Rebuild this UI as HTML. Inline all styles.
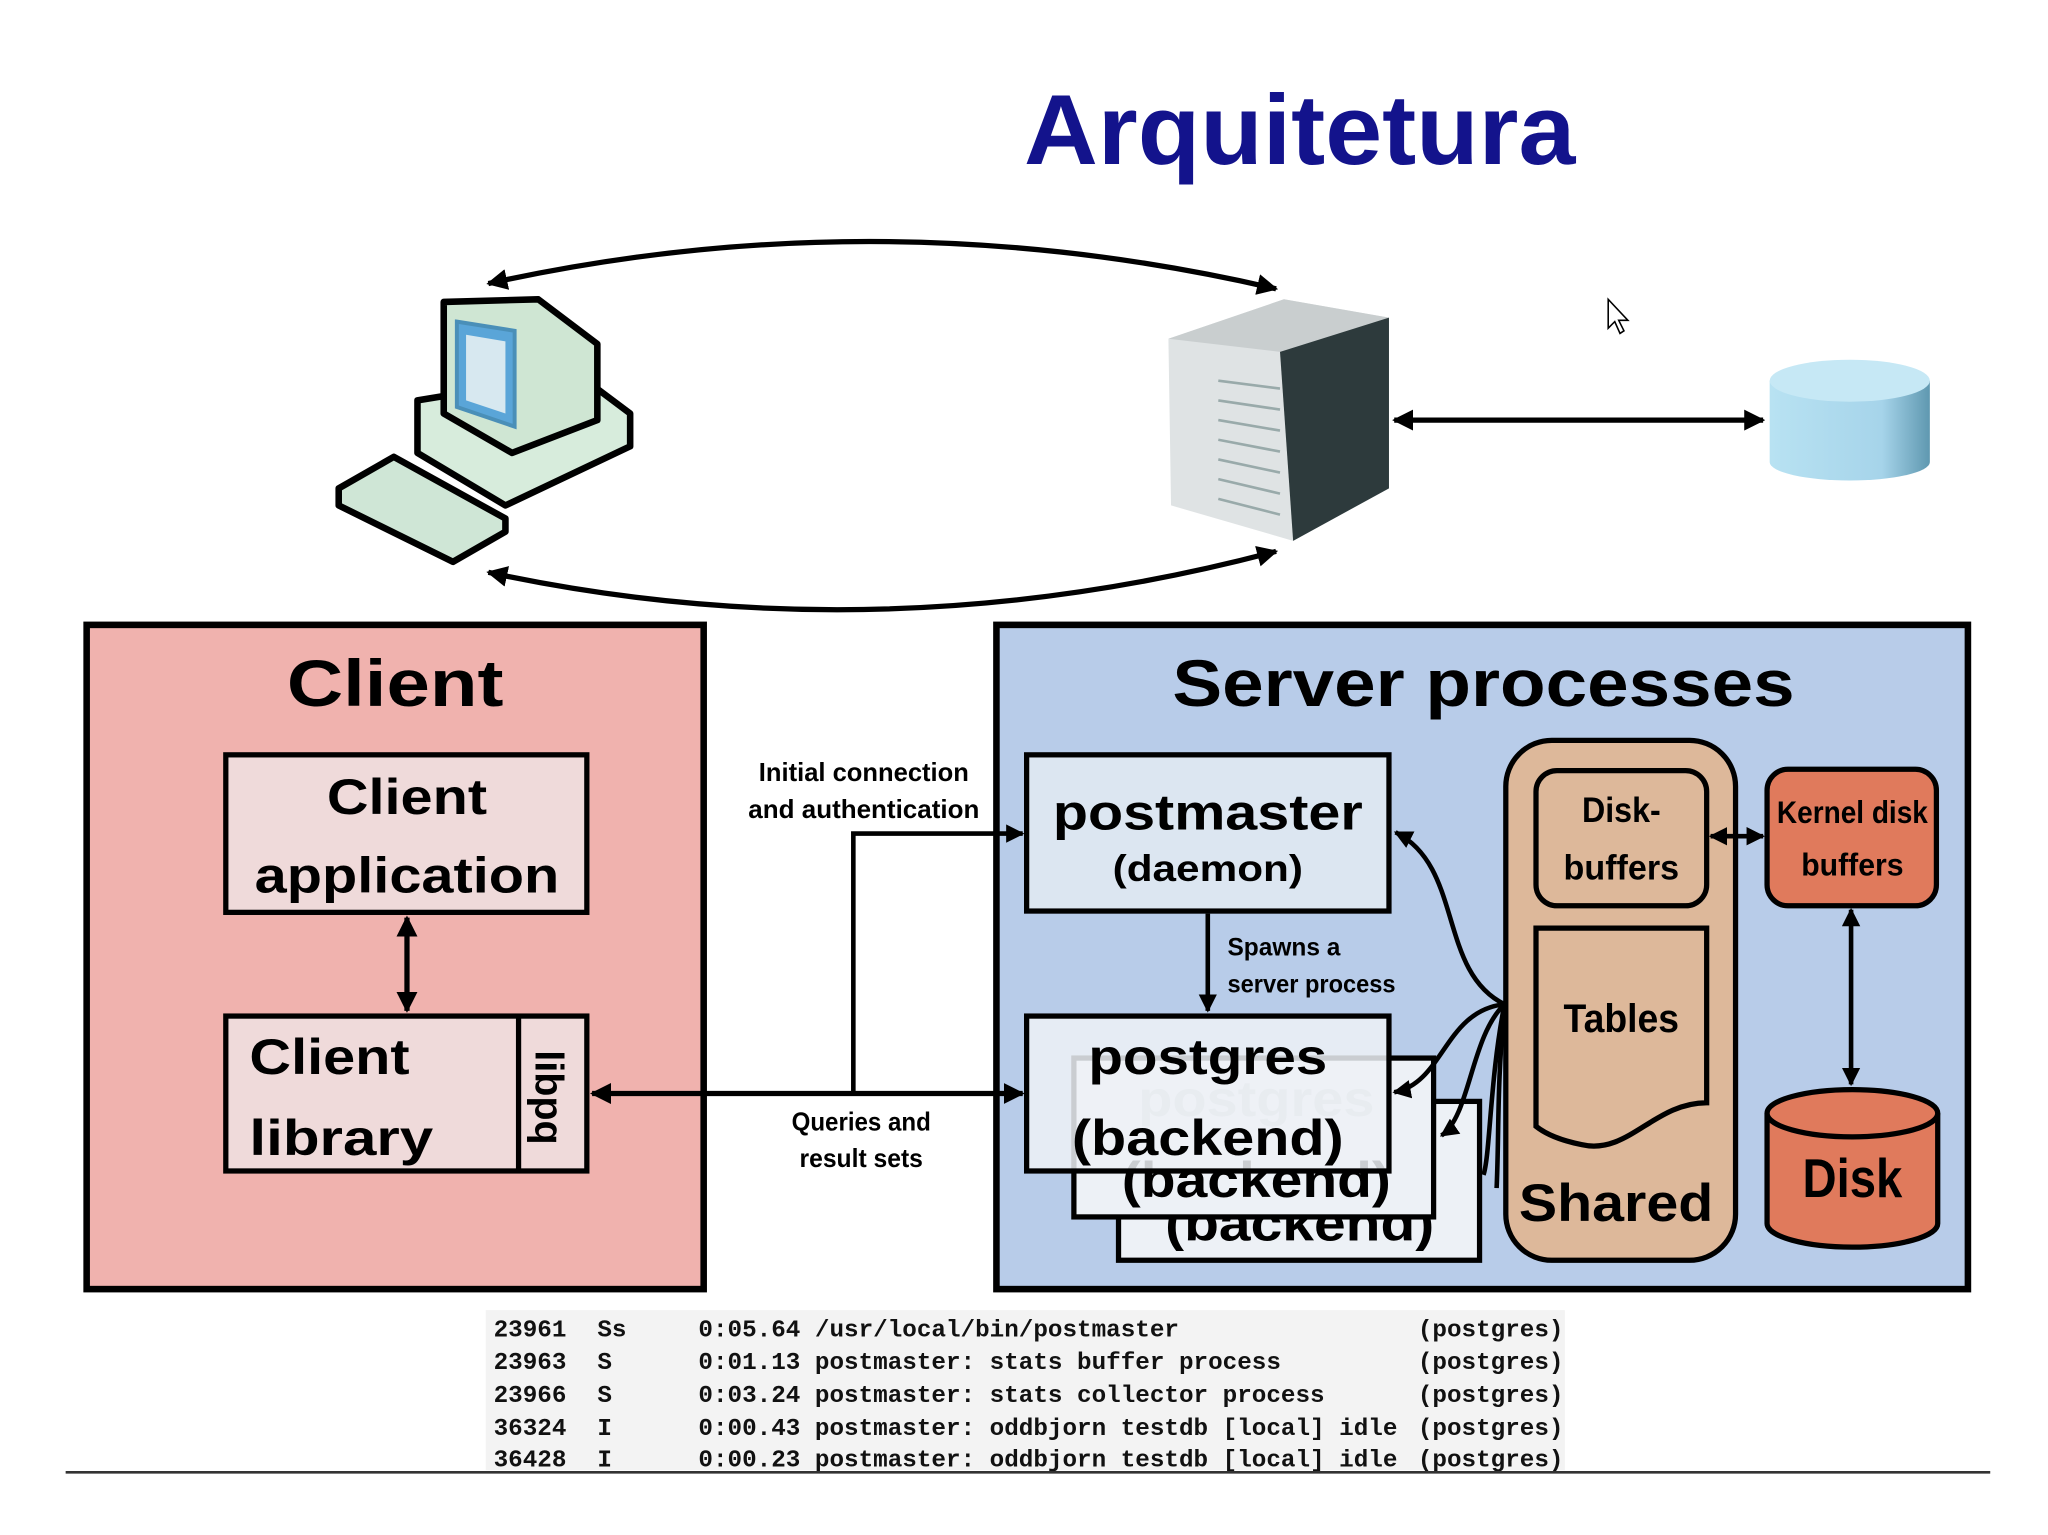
<!DOCTYPE html>
<html><head><meta charset="utf-8"><style>
html,body{margin:0;padding:0;background:#fff;width:2048px;height:1535px;overflow:hidden}
svg{display:block}
.b{font-family:"Liberation Sans",sans-serif;font-weight:bold;fill:#000}
.m{font-family:"Liberation Mono",monospace;font-weight:bold;font-size:18.5px;fill:#111}
</style></head><body>
<svg width="2048" height="1535" viewBox="0 0 1560 1169.3" preserveAspectRatio="none" xmlns="http://www.w3.org/2000/svg">
<defs>
<marker id="a" viewBox="0 0 10 10" refX="9" refY="5" markerWidth="4" markerHeight="4" orient="auto-start-reverse"><path d="M0,0L10,5L0,10z" fill="#000"/></marker>
<linearGradient id="cyl" x1="0" x2="1"><stop offset="0" stop-color="#b8e2f2"/><stop offset="0.7" stop-color="#a6d4ea"/><stop offset="1" stop-color="#5f98b0"/></linearGradient>
</defs>
<rect width="1560" height="1170" fill="#fff"/>
<text x="990" y="125" text-anchor="middle" font-family="Liberation Sans,sans-serif" font-weight="bold" font-size="76" fill="#13138c" textLength="420" lengthAdjust="spacingAndGlyphs">Arquitetura</text>

<!-- top loop -->
<path d="M372,216 Q670,150 972,220" fill="none" stroke="#000" stroke-width="4" marker-start="url(#a)" marker-end="url(#a)"/>
<path d="M372,436 Q670,500 972,420" fill="none" stroke="#000" stroke-width="4" marker-start="url(#a)" marker-end="url(#a)"/>

<!-- computer -->
<g stroke="#000" stroke-width="5" stroke-linejoin="round">
<path d="M318,305 L440,285 L480,315 L480,340 L385,385 L318,345 z" fill="#d7ecdc"/>
<path d="M338,230 L410,228 L455,262 L455,320 L390,345 L338,315 z" fill="#cfe6d3"/>
<path d="M258,372 L300,348 L385,395 L385,405 L345,428 L258,385 z" fill="#cfe6d6"/>
</g>
<path d="M348,245 L392,252 L392,325 L348,310 z" fill="#5aa5d8" stroke="#4a8fb8" stroke-width="3"/>
<path d="M355,255 L385,260 L385,315 L355,305 z" fill="#d7e8f0"/>

<!-- server -->
<path d="M890,258 L978,228 L1058,242 L1058,372 L985,412 L892,385 z" fill="#dfe3e4"/>
<path d="M890,258 L978,228 L1058,242 L975,268 z" fill="#c9cecf"/>
<path d="M975,268 L1058,242 L1058,372 L985,412 z" fill="#2d3a3c"/>
<g stroke="#9aa" stroke-width="2">
<line x1="928" y1="290" x2="975" y2="296"/><line x1="928" y1="305" x2="975" y2="312"/><line x1="928" y1="320" x2="975" y2="328"/><line x1="928" y1="335" x2="975" y2="344"/><line x1="928" y1="350" x2="975" y2="360"/><line x1="928" y1="365" x2="975" y2="376"/><line x1="928" y1="380" x2="975" y2="392"/>
</g>
<line x1="1062" y1="320" x2="1343" y2="320" stroke="#000" stroke-width="4" marker-start="url(#a)" marker-end="url(#a)"/>
<!-- db -->
<path d="M1348,290 L1348,352 A61,14 0 0 0 1470,352 L1470,290 z" fill="url(#cyl)"/>
<ellipse cx="1409" cy="290" rx="61" ry="16" fill="#c6e8f5"/>
<!-- cursor -->
<path d="M1225,228 L1225,250 L1230,245 L1234,254 L1237,252 L1233,244 L1240,244 z" fill="#fff" stroke="#000" stroke-width="1.2"/>

<!-- client box -->
<rect x="66" y="476" width="470" height="506" fill="#f0b2ae" stroke="#000" stroke-width="5"/>
<text x="301" y="538" text-anchor="middle" class="b" font-size="50" textLength="165" lengthAdjust="spacingAndGlyphs">Client</text>
<rect x="172" y="575" width="275" height="120" fill="#efdada" stroke="#000" stroke-width="4"/>
<text x="310" y="620" text-anchor="middle" class="b" font-size="38" textLength="122" lengthAdjust="spacingAndGlyphs">Client</text>
<text x="310" y="680" text-anchor="middle" class="b" font-size="38" textLength="232" lengthAdjust="spacingAndGlyphs">application</text>
<rect x="172" y="774" width="275" height="118" fill="#efdada" stroke="#000" stroke-width="4"/>
<line x1="395" y1="774" x2="395" y2="892" stroke="#000" stroke-width="4"/>
<text x="190" y="818" class="b" font-size="38" textLength="122" lengthAdjust="spacingAndGlyphs">Client</text>
<text x="190" y="880" class="b" font-size="38" textLength="140" lengthAdjust="spacingAndGlyphs">library</text>
<text transform="translate(408,800) rotate(90)" class="b" font-size="30" textLength="72" lengthAdjust="spacingAndGlyphs">libpq</text>
<line x1="310" y1="699" x2="310" y2="770" stroke="#000" stroke-width="4" marker-start="url(#a)" marker-end="url(#a)"/>

<text x="658" y="595" text-anchor="middle" class="b" font-size="20" textLength="160" lengthAdjust="spacingAndGlyphs">Initial connection</text>
<text x="658" y="623" text-anchor="middle" class="b" font-size="20" textLength="176" lengthAdjust="spacingAndGlyphs">and authentication</text>
<text x="656" y="861" text-anchor="middle" class="b" font-size="20" textLength="106" lengthAdjust="spacingAndGlyphs">Queries and</text>
<text x="656" y="889" text-anchor="middle" class="b" font-size="20" textLength="94" lengthAdjust="spacingAndGlyphs">result sets</text>

<!-- server box -->
<rect x="759" y="476" width="740" height="506" fill="#b8cce9" stroke="#000" stroke-width="5"/>
<text x="1130" y="538" text-anchor="middle" class="b" font-size="50" textLength="474" lengthAdjust="spacingAndGlyphs">Server processes</text>

<!-- connection lines (after server box so arrowheads show) -->
<line x1="451" y1="833" x2="779" y2="833" stroke="#000" stroke-width="4" marker-start="url(#a)" marker-end="url(#a)"/>
<polyline points="650,833 650,635 779,635" fill="none" stroke="#000" stroke-width="3.5" marker-end="url(#a)"/>

<rect x="852" y="839" width="275" height="121" fill="#edf1f6" stroke="#000" stroke-width="4"/>
<text x="990" y="945" text-anchor="middle" class="b" font-size="38" textLength="205" lengthAdjust="spacingAndGlyphs">(backend)</text>
<rect x="818" y="806" width="274" height="121" fill="#edf1f6" stroke="#000" stroke-width="4"/>
<text x="957" y="912" text-anchor="middle" class="b" font-size="38" textLength="205" lengthAdjust="spacingAndGlyphs">(backend)</text>
<text x="957" y="850" text-anchor="middle" class="b" font-size="38" style="fill:#c8ccd2" textLength="180" lengthAdjust="spacingAndGlyphs">postgres</text>
<rect x="782" y="774" width="276" height="118" fill="#edf1f6" fill-opacity="0.85" stroke="#000" stroke-width="4"/>
<text x="920" y="818" text-anchor="middle" class="b" font-size="38" textLength="182" lengthAdjust="spacingAndGlyphs">postgres</text>
<text x="920" y="880" text-anchor="middle" class="b" font-size="38" textLength="207" lengthAdjust="spacingAndGlyphs">(backend)</text>

<rect x="782" y="575" width="276" height="119" fill="#dce6f1" stroke="#000" stroke-width="4"/>
<text x="920" y="632" text-anchor="middle" class="b" font-size="38" textLength="236" lengthAdjust="spacingAndGlyphs">postmaster</text>
<text x="920" y="671" text-anchor="middle" class="b" font-size="28" textLength="145" lengthAdjust="spacingAndGlyphs">(daemon)</text>
<line x1="920" y1="696" x2="920" y2="770" stroke="#000" stroke-width="3.5" marker-end="url(#a)"/>
<text x="935" y="728" class="b" font-size="19" textLength="86" lengthAdjust="spacingAndGlyphs">Spawns a</text>
<text x="935" y="756" class="b" font-size="19" textLength="128" lengthAdjust="spacingAndGlyphs">server process</text>

<!-- curved arrows -->
<g fill="none" stroke="#000" stroke-width="3.5">
<path d="M1146,765 C1095,740 1115,660 1063,634" marker-end="url(#a)"/>
<path d="M1146,765 C1100,770 1100,825 1062,832" marker-end="url(#a)"/>
<path d="M1146,765 C1120,790 1120,850 1098,865" marker-end="url(#a)"/>
<path d="M1146,765 C1135,820 1135,880 1130,895"/>
<path d="M1146,765 C1140,830 1142,860 1140,905"/>
</g>

<!-- shared -->
<rect x="1147" y="564" width="175" height="396" rx="35" fill="#ddb89a" stroke="#000" stroke-width="4"/>
<rect x="1170" y="587" width="130" height="103" rx="16" fill="#ddb89a" stroke="#000" stroke-width="4"/>
<text x="1235" y="626" text-anchor="middle" class="b" font-size="27" textLength="60" lengthAdjust="spacingAndGlyphs">Disk-</text>
<text x="1235" y="670" text-anchor="middle" class="b" font-size="27" textLength="88" lengthAdjust="spacingAndGlyphs">buffers</text>
<path d="M1170,707 L1300,707 L1300,840 C1260,840 1240,880 1205,872 C1185,868 1175,862 1170,858 z" fill="#ddb89a" stroke="#000" stroke-width="4"/>
<text x="1235" y="786" text-anchor="middle" class="b" font-size="30" textLength="88" lengthAdjust="spacingAndGlyphs">Tables</text>
<text x="1231" y="930" text-anchor="middle" class="b" font-size="40" textLength="148" lengthAdjust="spacingAndGlyphs">Shared</text>

<rect x="1346" y="586" width="129" height="104" rx="16" fill="#e07a5c" stroke="#000" stroke-width="4"/>
<text x="1411" y="627" text-anchor="middle" class="b" font-size="24" textLength="115" lengthAdjust="spacingAndGlyphs">Kernel disk</text>
<text x="1411" y="667" text-anchor="middle" class="b" font-size="24" textLength="78" lengthAdjust="spacingAndGlyphs">buffers</text>
<line x1="1303" y1="637" x2="1343" y2="637" stroke="#000" stroke-width="3.5" marker-start="url(#a)" marker-end="url(#a)"/>
<line x1="1410" y1="693" x2="1410" y2="826" stroke="#000" stroke-width="3.5" marker-start="url(#a)" marker-end="url(#a)"/>
<path d="M1346,848 L1346,932 A65,18 0 0 0 1476,932 L1476,848" fill="#e07a5c" stroke="#000" stroke-width="4"/>
<ellipse cx="1411" cy="848" rx="65" ry="18" fill="#e07a5c" stroke="#000" stroke-width="4"/>
<text x="1411" y="912" text-anchor="middle" class="b" font-size="42" textLength="76" lengthAdjust="spacingAndGlyphs">Disk</text>

<!-- ps output -->
<rect x="370" y="998" width="822" height="122" fill="#f3f3f3"/>
<g class="m">
<text x="376" y="1018">23961</text><text x="455" y="1018">Ss</text><text x="532" y="1018">0:05.64 /usr/local/bin/postmaster</text><text x="1080" y="1018">(postgres)</text>
<text x="376" y="1043">23963</text><text x="455" y="1043">S</text><text x="532" y="1043">0:01.13 postmaster: stats buffer process</text><text x="1080" y="1043">(postgres)</text>
<text x="376" y="1068">23966</text><text x="455" y="1068">S</text><text x="532" y="1068">0:03.24 postmaster: stats collector process</text><text x="1080" y="1068">(postgres)</text>
<text x="376" y="1093">36324</text><text x="455" y="1093">I</text><text x="532" y="1093">0:00.43 postmaster: oddbjorn testdb [local] idle</text><text x="1080" y="1093">(postgres)</text>
<text x="376" y="1117">36428</text><text x="455" y="1117">I</text><text x="532" y="1117">0:00.23 postmaster: oddbjorn testdb [local] idle</text><text x="1080" y="1117">(postgres)</text>
</g>
<line x1="50" y1="1121.5" x2="1516" y2="1121.5" stroke="#333" stroke-width="2"/>
</svg>
</body></html>
